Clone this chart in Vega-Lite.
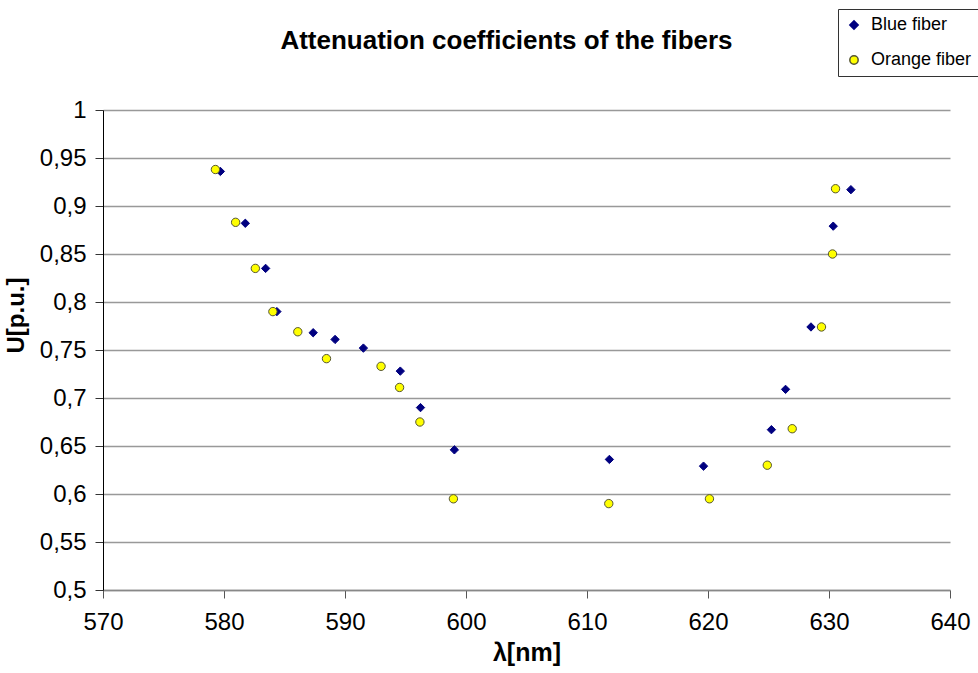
{
  "$schema": "https://vega.github.io/schema/vega-lite/v6.json",
  "width": 847,
  "height": 480,
  "autosize": {"type": "none"},
  "padding": {"left": 103, "top": 110, "right": 28, "bottom": 83},
  "background": "white",
  "title": {
    "text": "Attenuation coefficients of the fibers",
    "font": "Liberation Sans",
    "fontSize": 26,
    "fontWeight": "bold",
    "color": "black",
    "anchor": "middle",
    "dx": -20,
    "offset": -45
  },
  "data": {
    "values": [
      {"fiber": "Blue fiber", "wl": 579.70, "u": 0.936},
      {"fiber": "Blue fiber", "wl": 581.76, "u": 0.882},
      {"fiber": "Blue fiber", "wl": 583.44, "u": 0.835},
      {"fiber": "Blue fiber", "wl": 584.37, "u": 0.790},
      {"fiber": "Blue fiber", "wl": 587.37, "u": 0.768},
      {"fiber": "Blue fiber", "wl": 589.18, "u": 0.761},
      {"fiber": "Blue fiber", "wl": 591.52, "u": 0.752},
      {"fiber": "Blue fiber", "wl": 594.57, "u": 0.728},
      {"fiber": "Blue fiber", "wl": 596.24, "u": 0.690},
      {"fiber": "Blue fiber", "wl": 599.04, "u": 0.646},
      {"fiber": "Blue fiber", "wl": 611.85, "u": 0.636},
      {"fiber": "Blue fiber", "wl": 619.63, "u": 0.629},
      {"fiber": "Blue fiber", "wl": 625.24, "u": 0.667},
      {"fiber": "Blue fiber", "wl": 626.41, "u": 0.709},
      {"fiber": "Blue fiber", "wl": 628.51, "u": 0.774},
      {"fiber": "Blue fiber", "wl": 630.35, "u": 0.879},
      {"fiber": "Blue fiber", "wl": 631.81, "u": 0.917},
      {"fiber": "Orange fiber", "wl": 579.29, "u": 0.938},
      {"fiber": "Orange fiber", "wl": 580.96, "u": 0.883},
      {"fiber": "Orange fiber", "wl": 582.59, "u": 0.835},
      {"fiber": "Orange fiber", "wl": 584.04, "u": 0.790},
      {"fiber": "Orange fiber", "wl": 586.10, "u": 0.769},
      {"fiber": "Orange fiber", "wl": 588.47, "u": 0.741},
      {"fiber": "Orange fiber", "wl": 592.98, "u": 0.733},
      {"fiber": "Orange fiber", "wl": 594.51, "u": 0.711},
      {"fiber": "Orange fiber", "wl": 596.19, "u": 0.675},
      {"fiber": "Orange fiber", "wl": 598.96, "u": 0.595},
      {"fiber": "Orange fiber", "wl": 611.80, "u": 0.590},
      {"fiber": "Orange fiber", "wl": 620.12, "u": 0.595},
      {"fiber": "Orange fiber", "wl": 624.90, "u": 0.630},
      {"fiber": "Orange fiber", "wl": 626.96, "u": 0.668},
      {"fiber": "Orange fiber", "wl": 629.38, "u": 0.774},
      {"fiber": "Orange fiber", "wl": 630.29, "u": 0.850},
      {"fiber": "Orange fiber", "wl": 630.54, "u": 0.918}
    ]
  },
  "mark": {"type": "point", "filled": true, "opacity": 1, "strokeWidth": 1},
  "encoding": {
    "x": {
      "field": "wl",
      "type": "quantitative",
      "scale": {"domain": [570, 640], "nice": false, "zero": false},
      "axis": {
        "title": "λ[nm]",
        "values": [570, 580, 590, 600, 610, 620, 630, 640],
        "grid": false,
        "labelFlush": false,
        "labelOverlap": false,
        "domainColor": "#888888",
        "domainWidth": 1.5,
        "tickColor": "#555555",
        "tickSize": 8,
        "labelFont": "Liberation Sans",
        "labelFontSize": 24,
        "labelColor": "black",
        "labelPadding": 12,
        "titleFont": "Liberation Sans",
        "titleFontSize": 25,
        "titleFontWeight": "bold",
        "titleColor": "black",
        "titlePadding": 6
      }
    },
    "y": {
      "field": "u",
      "type": "quantitative",
      "scale": {"domain": [0.5, 1], "nice": false, "zero": false},
      "axis": {
        "title": "U[p.u.]",
        "values": [0.5, 0.55, 0.6, 0.65, 0.7, 0.75, 0.8, 0.85, 0.9, 0.95, 1],
        "labelExpr": "replace(toString(datum.value), '.', ',')",
        "labelFlush": false,
        "labelOverlap": false,
        "grid": true,
        "gridColor": "#999999",
        "gridWidth": 1.5,
        "domainColor": "black",
        "domainWidth": 1,
        "tickColor": "#333333",
        "tickSize": 8,
        "labelFont": "Liberation Sans",
        "labelFontSize": 24,
        "labelColor": "black",
        "labelPadding": 9,
        "titleFont": "Liberation Sans",
        "titleFontSize": 24,
        "titleFontWeight": "bold",
        "titleColor": "black",
        "titleX": -75,
        "titleY": 205
      }
    },
    "fill": {
      "field": "fiber",
      "type": "nominal",
      "scale": {"domain": ["Blue fiber", "Orange fiber"], "range": ["#000080", "#FFFF00"]},
      "legend": {
        "title": null,
        "orient": "none",
        "legendX": 735,
        "legendY": -101,
        "strokeColor": "#333333",
        "padding": 7,
        "labelFont": "Liberation Sans",
        "labelFontSize": 18,
        "labelColor": "black",
        "labelOffset": 8,
        "symbolSize": 70,
        "rowPadding": 17
      }
    },
    "stroke": {
      "field": "fiber",
      "type": "nominal",
      "scale": {"domain": ["Blue fiber", "Orange fiber"], "range": ["#000080", "#555533"]}
    },
    "shape": {
      "field": "fiber",
      "type": "nominal",
      "scale": {"domain": ["Blue fiber", "Orange fiber"], "range": ["diamond", "circle"]}
    },
    "size": {"value": 70}
  },
  "config": {
    "view": {"stroke": null}
  }
}
